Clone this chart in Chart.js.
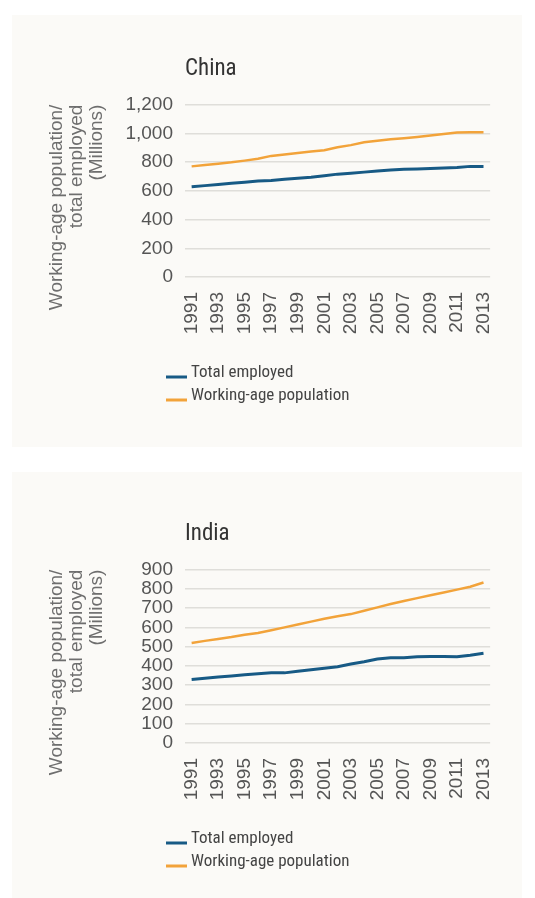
<!DOCTYPE html>
<html><head><meta charset="utf-8">
<script src="https://cdn.jsdelivr.net/npm/chart.js@4/dist/chart.umd.min.js"></script>
<style>
html,body{margin:0;padding:0;background:#fff;width:535px;height:898px;overflow:hidden}
.panel{position:absolute;left:12px;width:510px;background:#fbfaf7}
#p1{top:15px;height:432px}
#p2{top:472px;height:426px}
canvas{display:block}
</style></head><body>
<div class="panel" id="p1"><canvas id="c1"></canvas></div>
<div class="panel" id="p2"><canvas id="c2"></canvas></div>
<script>
const years = ['1991','1992','1993','1994','1995','1996','1997','1998','1999','2000','2001','2002','2003','2004','2005','2006','2007','2008','2009','2010','2011','2012','2013'];
const tickYears = ['1991','1993','1995','1997','1999','2001','2003','2005','2007','2009','2011','2013'];
const seriesNames = ['Total employed', 'Working-age population'];
const chinaEmployed   = [628,636,644,652,660,668,672,680,688,694,704,716,722,730,738,744,750,752,755,759,763,770,770];
const chinaWorkingAge = [770,780,789,798,810,823,843,853,863,873,883,903,918,938,948,958,966,975,985,995,1005,1008,1007];
const indiaEmployed   = [330,336,342,348,354,360,364,364,372,380,388,396,410,422,436,442,442,448,449,449,448,456,466];
const indiaWorkingAge = [519,530,540,550,562,571,585,600,615,630,645,658,669,686,704,721,737,752,767,781,796,811,833];
const chinaYMax = 1200, chinaYStep = 200;
const indiaYMax = 900, indiaYStep = 100;
const yTitleLines = ['Working-age population/', 'total employed', '(Millions)'];

const NARROW = '"Liberation Sans Narrow", "Roboto Condensed", "DejaVu Sans Condensed", "Arial Narrow", sans-serif';
const SANS = '"Liberation Sans", Arial, Helvetica, sans-serif';
const BLUE = '#175a85', ORANGE = '#f2a33a';

const stackedLegend = {
  id: 'stackedLegend',
  afterDraw(chart, args, o) {
    const ctx = chart.ctx, ca = chart.chartArea;
    ctx.save();
    chart.data.datasets.forEach((ds, i) => {
      const y = ca.bottom + o.offsetY + i * o.rowGap;
      const x0 = ca.left + o.offsetX;
      ctx.strokeStyle = ds.borderColor;
      ctx.lineWidth = 3;
      ctx.beginPath();
      ctx.moveTo(x0, y + 4);
      ctx.lineTo(x0 + o.lineLen, y + 4);
      ctx.stroke();
      ctx.fillStyle = o.color;
      ctx.font = o.font;
      ctx.textBaseline = 'middle';
      ctx.textAlign = 'left';
      ctx.fillText(ds.label, x0 + o.lineLen + o.gap, y);
    });
    ctx.restore();
  }
};

function makeChart(id, title, employed, working, yMax, yStep, topPad, bottomPad) {
  return new Chart(document.getElementById(id), {
    type: 'line',
    data: {
      labels: years,
      datasets: [
        { label: seriesNames[0], data: employed, borderColor: BLUE, backgroundColor: BLUE, borderWidth: 3, pointRadius: 0, tension: 0 },
        { label: seriesNames[1], data: working, borderColor: ORANGE, backgroundColor: ORANGE, borderWidth: 2.5, pointRadius: 0, tension: 0 }
      ]
    },
    options: {
      responsive: true,
      maintainAspectRatio: false,
      animation: false,
      layout: { padding: { top: topPad, left: 15, right: 22, bottom: bottomPad } },
      plugins: {
        legend: { display: false },
        tooltip: { enabled: false },
        title: {
          display: true, text: title, align: 'start', fullSize: false,
          color: '#333', font: { family: NARROW, size: 23, weight: 'normal' },
          padding: { top: 20, bottom: 22 }
        },
        stackedLegend: { offsetX: -19, offsetY: 96, rowGap: 23, lineLen: 21, gap: 4, color: '#444', font: '17px ' + NARROW }
      },
      scales: {
        x: {
          type: 'category',
          offset: true,
          grid: { display: false, drawTicks: false },
          border: { display: false },
          afterFit: s => { s.height = 60; },
          ticks: {
            autoSkip: false, minRotation: 90, maxRotation: 90, padding: 15,
            color: '#555', font: { family: SANS, size: 19 },
            callback: (v, i) => tickYears.includes(years[i]) ? years[i] : ''
          }
        },
        y: {
          min: 0, max: yMax,
          afterFit: s => { s.width = 158; },
          grid: { color: '#dfdeda', lineWidth: 1.5, drawTicks: false },
          border: { display: false },
          ticks: { stepSize: yStep, autoSkip: false, padding: 12, color: '#555', font: { family: SANS, size: 19 } },
          title: {
            display: true, text: yTitleLines, align: 'end', color: '#6e6e6e',
            font: { family: SANS, size: 19, lineHeight: 20 / 19 },
            padding: { top: 20, bottom: 0 }
          }
        }
      }
    },
    plugins: [stackedLegend]
  });
}

makeChart('c1', 'China', chinaEmployed, chinaWorkingAge, chinaYMax, chinaYStep, 20, 110);
makeChart('c2', 'India', indiaEmployed, indiaWorkingAge, indiaYMax, indiaYStep, 28, 95);
</script>
</body></html>
